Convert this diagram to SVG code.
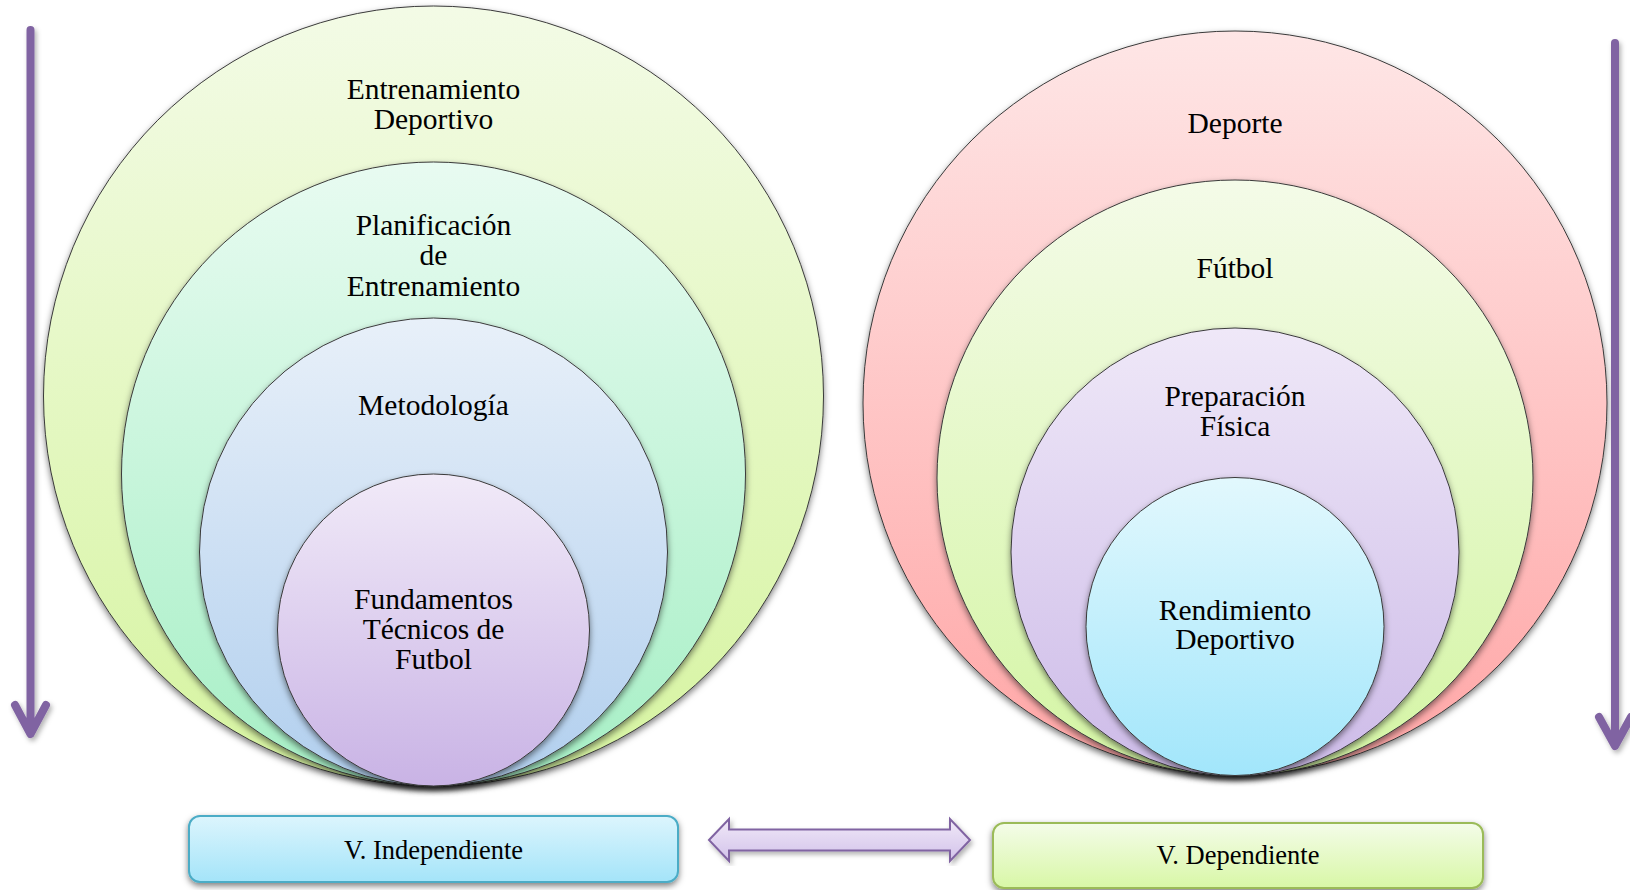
<svg xmlns="http://www.w3.org/2000/svg" width="1630" height="890" viewBox="0 0 1630 890">
<style>
text{font-family:"Liberation Serif","Times New Roman",serif;fill:#000;text-anchor:middle}
.t{font-size:29.5px}
.b{font-size:26.5px}
.c{stroke:#3a3a3a;stroke-width:1;filter:url(#sh)}
.arr{fill:none;stroke:#8064a2;stroke-width:8;stroke-linecap:round;stroke-linejoin:round;filter:url(#sh2)}
</style>
<defs>
<filter id="sh" x="-10%" y="-10%" width="120%" height="125%"><feDropShadow dx="0" dy="3" stdDeviation="3" flood-color="#000" flood-opacity="0.5"/></filter>
<filter id="sh2" x="-50%" y="-10%" width="200%" height="120%"><feDropShadow dx="2" dy="3" stdDeviation="2.5" flood-color="#000" flood-opacity="0.3"/></filter>
<linearGradient id="gL1" x1="0" y1="0" x2="0" y2="1"><stop offset="0" stop-color="#f3fbe6"/><stop offset="1" stop-color="#d6f4a0"/></linearGradient>
<linearGradient id="gL2" x1="0" y1="0" x2="0" y2="1"><stop offset="0" stop-color="#e8fbf1"/><stop offset="1" stop-color="#a6efc5"/></linearGradient>
<linearGradient id="gL3" x1="0" y1="0" x2="0" y2="1"><stop offset="0" stop-color="#e8f0f9"/><stop offset="1" stop-color="#b1cfee"/></linearGradient>
<linearGradient id="gL4" x1="0" y1="0" x2="0" y2="1"><stop offset="0" stop-color="#f1eaf8"/><stop offset="1" stop-color="#c9b3e5"/></linearGradient>
<linearGradient id="gR1" x1="0" y1="0" x2="0" y2="1"><stop offset="0" stop-color="#fee6e6"/><stop offset="1" stop-color="#ffa6a6"/></linearGradient>
<linearGradient id="gR2" x1="0" y1="0" x2="0" y2="1"><stop offset="0" stop-color="#f4fbe8"/><stop offset="1" stop-color="#d4f5a4"/></linearGradient>
<linearGradient id="gR3" x1="0" y1="0" x2="0" y2="1"><stop offset="0" stop-color="#efe8f8"/><stop offset="1" stop-color="#cdbbe8"/></linearGradient>
<linearGradient id="gR4" x1="0" y1="0" x2="0" y2="1"><stop offset="0" stop-color="#e2f8fd"/><stop offset="1" stop-color="#a2e6fb"/></linearGradient>
<linearGradient id="gB1" x1="0" y1="0" x2="0" y2="1"><stop offset="0" stop-color="#dcf5fd"/><stop offset="1" stop-color="#a4e4f9"/></linearGradient>
<linearGradient id="gB2" x1="0" y1="0" x2="0" y2="1"><stop offset="0" stop-color="#f4fce9"/><stop offset="1" stop-color="#d8f7a6"/></linearGradient>
<linearGradient id="gA" x1="0" y1="0" x2="0" y2="1"><stop offset="0" stop-color="#f1e9f8"/><stop offset="1" stop-color="#d2c2ea"/></linearGradient>
</defs>

<g id="left-circles">
<g id="n-entrenamiento-deportivo"><circle class="c" cx="433.5" cy="396" r="390" fill="url(#gL1)"/>
<text class="t" x="433.5" y="99">Entrenamiento</text><text class="t" x="433.5" y="129">Deportivo</text></g>
<g id="n-planificacion"><circle class="c" cx="433.5" cy="474" r="312" fill="url(#gL2)"/>
<text class="t" x="433.5" y="235">Planificación</text><text class="t" x="433.5" y="265">de</text><text class="t" x="433.5" y="296">Entrenamiento</text></g>
<g id="n-metodologia"><circle class="c" cx="433.5" cy="552" r="234" fill="url(#gL3)"/>
<text class="t" x="433.5" y="415">Metodología</text></g>
<g id="n-fundamentos"><circle class="c" cx="433.5" cy="630" r="156" fill="url(#gL4)"/>
<text class="t" x="433.5" y="609">Fundamentos</text><text class="t" x="433.5" y="639">Técnicos de</text><text class="t" x="433.5" y="669">Futbol</text></g>
</g>

<g id="right-circles">
<g id="n-deporte"><circle class="c" cx="1235" cy="403" r="372" fill="url(#gR1)"/>
<text class="t" x="1235" y="133">Deporte</text></g>
<g id="n-futbol"><circle class="c" cx="1235" cy="478" r="298" fill="url(#gR2)"/>
<text class="t" x="1235" y="278">Fútbol</text></g>
<g id="n-preparacion"><circle class="c" cx="1235" cy="552" r="224" fill="url(#gR3)"/>
<text class="t" x="1235" y="406">Preparación</text><text class="t" x="1235" y="436">Física</text></g>
<g id="n-rendimiento"><circle class="c" cx="1235" cy="626.5" r="149" fill="url(#gR4)"/>
<text class="t" x="1235" y="620">Rendimiento</text><text class="t" x="1235" y="649">Deportivo</text></g>
</g>

<g id="n-v-independiente">
<rect x="189" y="816" width="489" height="66" rx="11" fill="url(#gB1)" stroke="#4bacc6" stroke-width="2" filter="url(#sh)"/>
<text class="b" x="433.5" y="859">V. Independiente</text>
</g>
<g id="n-v-dependiente">
<rect x="993" y="823" width="490" height="65" rx="11" fill="url(#gB2)" stroke="#9bbb59" stroke-width="2" filter="url(#sh)"/>
<text class="b" x="1238" y="864">V. Dependiente</text>
</g>

<g id="connectors">
<path class="arr" d="M30.5,30 V732 M15,705 L30.5,734 L46,705"/>
<path class="arr" d="M1615,43 V744 M1599,717 L1615,746 L1631,717"/>
<path d="M709,840 L729,819 L729,829.5 L950,829.5 L950,819 L970,840 L950,861 L950,850.5 L729,850.5 L729,861 Z" fill="url(#gA)" stroke="#8064a2" stroke-width="2" stroke-linejoin="miter" filter="url(#sh2)"/>
</g>
</svg>
